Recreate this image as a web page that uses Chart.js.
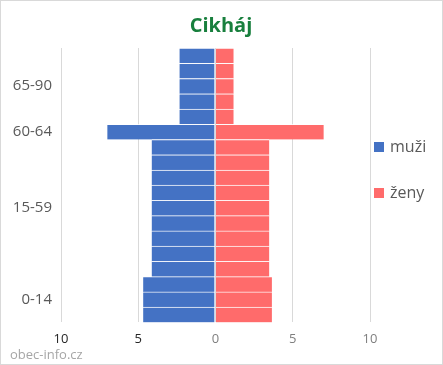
<!DOCTYPE html>
<html>
<head>
<meta charset="utf-8">
<title>Cikháj</title>
<script src="https://cdn.jsdelivr.net/npm/chart.js@4"></script>
<style>
  html, body { margin: 0; padding: 0; background: #fff; }
  #wrap { width: 443px; height: 365px; box-sizing: border-box; border: 1px solid #d9d9d9; }
  canvas { display: block; }
</style>
</head>
<body>
<div id="wrap"><canvas id="pyramid" width="441" height="363"></canvas></div>
<script>
// one row per 5 years; only the group middles get a label
const ageLabels = [
  '', '', '65-90', '', '',
  '60-64',
  '', '', '', '', '15-59', '', '', '', '',
  '', '0-14', ''
];
const muzi = [2.33, 2.33, 2.33, 2.33, 2.33, 7, 4.13, 4.13, 4.13, 4.13, 4.13, 4.13, 4.13, 4.13, 4.13, 4.68, 4.68, 4.68];
const zeny = [1.17, 1.17, 1.17, 1.17, 1.17, 7, 3.48, 3.48, 3.48, 3.48, 3.48, 3.48, 3.48, 3.48, 3.48, 3.65, 3.65, 3.65];
const xTicks = [-10, -5, 0, 5, 10];

const blue = '#4472c4';
const red = '#ff6b6b';
const sep = 'rgba(255,255,255,0.75)';

Chart.defaults.font.family = "'Open Sans', sans-serif";

// simple legend on the right, stacked with wide gaps like the original
const sideLegend = {
  id: 'sideLegend',
  afterDraw(chart) {
    const ctx = chart.ctx;
    const area = chart.chartArea;
    const x = area.right + 4;
    const rows = [area.top + 99, area.top + 145];
    ctx.save();
    ctx.font = "16px 'Open Sans', sans-serif";
    ctx.textBaseline = 'middle';
    chart.data.datasets.forEach((ds, i) => {
      ctx.fillStyle = ds.backgroundColor;
      ctx.fillRect(x, rows[i] - 5, 10, 10);
      ctx.fillStyle = '#595959';
      ctx.fillText(ds.label, x + 16, rows[i]);
    });
    ctx.restore();
  }
};

new Chart(document.getElementById('pyramid'), {
  type: 'bar',
  data: {
    labels: ageLabels,
    datasets: [
      {
        label: 'muži',
        data: muzi.map(v => -v),
        backgroundColor: blue,
        borderColor: sep,
        borderWidth: { top: 1, right: 1, bottom: 0, left: 0 },
        borderSkipped: false
      },
      {
        label: 'ženy',
        data: zeny,
        backgroundColor: red,
        borderColor: sep,
        borderWidth: { top: 1, right: 0, bottom: 0, left: 0 },
        borderSkipped: false
      }
    ]
  },
  options: {
    indexAxis: 'y',
    responsive: false,
    animation: false,
    barPercentage: 1,
    categoryPercentage: 1,
    layout: { padding: { left: 9, right: 10, top: 0, bottom: 0 } },
    plugins: {
      legend: { display: false },
      tooltip: { enabled: false },
      title: {
        display: true,
        text: 'Cikháj',
        color: '#187f3d',
        font: { size: 20, weight: 'bold' },
        padding: { top: 13, bottom: 10 }
      },
      subtitle: {
        display: true,
        position: 'bottom',
        align: 'start',
        text: 'obec-info.cz',
        color: '#a6a6a6',
        font: { size: 13 },
        padding: { top: 0, bottom: 1 }
      }
    },
    scales: {
      x: {
        stacked: true,
        min: -10,
        max: 10,
        afterBuildTicks: s => { s.ticks = xTicks.map(v => ({ value: v })); },
        afterFit: s => { s.height = 25; },
        grid: { color: '#d9d9d9', drawTicks: false },
        border: { display: false },
        ticks: {
          padding: 9,
          font: { size: 13 },
          color: c => (c.tick && c.tick.value < 0 ? '#262626' : '#7f7f7f'),
          callback: v => Math.abs(v)
        }
      },
      y: {
        stacked: true,
        afterFit: s => { s.width = 51; },
        grid: { display: false, drawTicks: false },
        border: { display: false },
        ticks: {
          autoSkip: false,
          padding: 9,
          color: '#595959',
          font: { size: 15 }
        }
      },
      yR: {
        type: 'category',
        position: 'right',
        afterFit: s => { s.width = 62; },
        grid: { display: false, drawTicks: false },
        border: { display: false },
        ticks: { display: false }
      }
    }
  },
  plugins: [sideLegend]
});
</script>
</body>
</html>
